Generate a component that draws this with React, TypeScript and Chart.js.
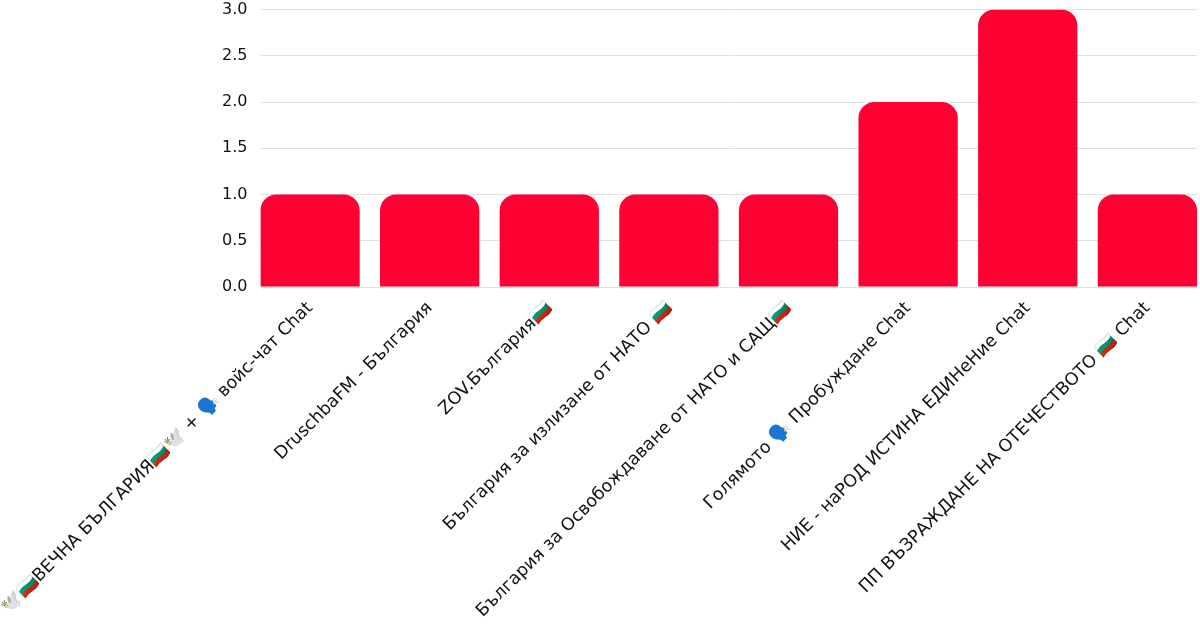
import { useEffect, useRef } from "react";
import { Chart, registerables } from "chart.js";

Chart.register(...registerables);

const categories = [
  "🕊️🇧🇬ВЕЧНА БЪЛГАРИЯ🇧🇬🕊️ + 🗣️ войс-чат Chat",
  "DruschbaFM - България",
  "ZOV.България🇧🇬",
  "България за излизане от НАТО 🇧🇬",
  "България за Освобождаване от НАТО и САЩ🇧🇬",
  "Голямото 🗣️ Пробуждане Chat",
  "НИЕ - наРОД ИСТИНА ЕДИНеНие Chat",
  "ПП ВЪЗРАЖДАНЕ НА ОТЕЧЕСТВОТО 🇧🇬 Chat",
];

const counts = [1, 1, 1, 1, 1, 2, 3, 1];

const FONT = "'DejaVu Sans', 'Noto Sans', sans-serif";
const BAR_SHARE = 0.83;

export default function App() {
  const chartRef = useRef<HTMLCanvasElement>(null);
  const chartInstance = useRef<Chart | null>(null);

  useEffect(() => {
    document.body.style.margin = "0";
    if (!chartRef.current) return;
    if (chartInstance.current) chartInstance.current.destroy();

    const ctx = chartRef.current.getContext("2d");
    if (!ctx) return;

    // index-based x so the outer bars sit flush with the plot edges
    const points = counts.map((y, i) => ({ x: i, y }));

    chartInstance.current = new Chart(ctx, {
      type: "bar",
      data: {
        datasets: [
          {
            data: points,
            backgroundColor: "#FF0033",
            borderRadius: { topLeft: 16, topRight: 16 },
            borderSkipped: false,
            categoryPercentage: 1,
            barPercentage: BAR_SHARE,
          },
        ],
      },
      options: {
        responsive: true,
        maintainAspectRatio: false,
        animation: false,
        layout: { padding: { top: 0, right: 3, left: 0, bottom: 0 } },
        plugins: {
          legend: { display: false },
          tooltip: { enabled: false },
        },
        scales: {
          x: {
            type: "linear",
            offset: false,
            min: -BAR_SHARE / 2,
            max: categories.length - 1 + BAR_SHARE / 2,
            grid: { display: false },
            border: { display: false },
            afterBuildTicks: (axis: any) => {
              axis.ticks = categories.map((_, i) => ({ value: i }));
            },
            afterFit: (axis: any) => {
              axis.height = 341;
            },
            ticks: {
              minRotation: 45,
              maxRotation: 45,
              autoSkip: false,
              color: "#111",
              font: { family: FONT, size: 17.5 },
              callback: (v: any) => categories[Number(v)] ?? "",
            },
          },
          y: {
            min: 0,
            max: 3,
            grid: { color: "#e0e0e0", drawTicks: true, tickLength: 13, tickColor: "transparent" },
            border: { display: false },
            ticks: {
              stepSize: 0.5,
              padding: 0,
              color: "#111",
              font: { family: FONT, size: 16 },
              callback: (v) => Number(v).toFixed(1),
            },
          },
        },
      },
    });

    return () => {
      if (chartInstance.current) {
        chartInstance.current.destroy();
        chartInstance.current = null;
      }
    };
  }, []);

  return (
    <div style={{ width: 1200, height: 628, position: "relative" }}>
      <canvas ref={chartRef} />
    </div>
  );
}
